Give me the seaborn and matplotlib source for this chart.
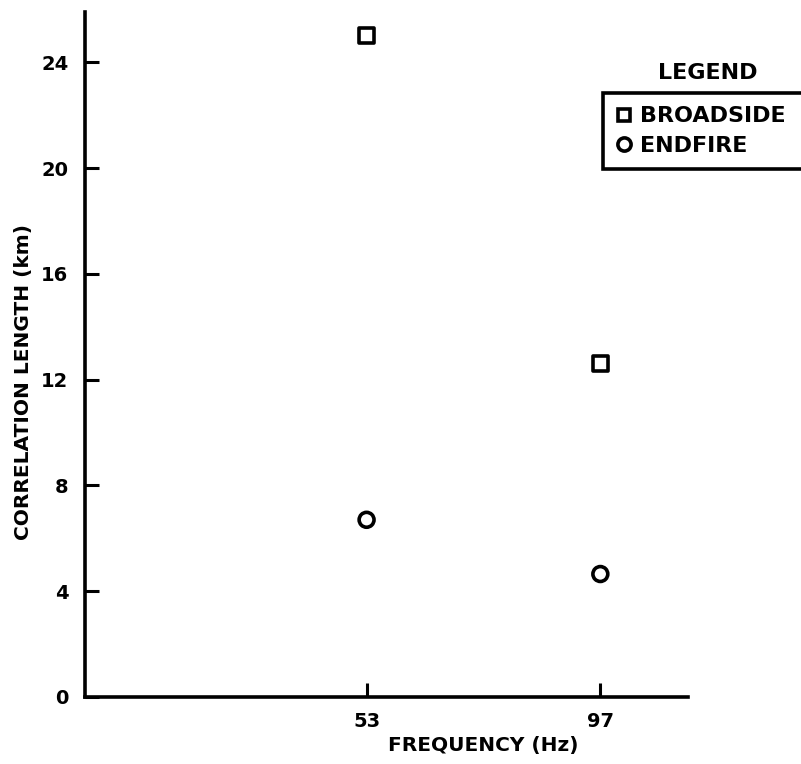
import matplotlib
matplotlib.use("Agg")
import matplotlib.pyplot as plt
import seaborn as sns
import pandas as pd
from matplotlib.lines import Line2D

# Data
frequency_hz = [53, 97]
broadside_km = [25.0, 12.6]
endfire_km = [6.7, 4.65]
series_names = ["BROADSIDE", "ENDFIRE"]
x_ticks = [53, 97]
y_ticks = [0, 4, 8, 12, 16, 20, 24]

df = pd.DataFrame({
    "freq": frequency_hz * 2,
    "length": broadside_km + endfire_km,
    "series": [series_names[0]] * 2 + [series_names[1]] * 2,
})

sns.set_style("ticks")
plt.rcParams["font.family"] = ["DejaVu Sans"]
plt.rcParams["font.weight"] = "bold"
for k in ["text.color", "axes.labelcolor", "xtick.color", "ytick.color", "axes.edgecolor"]:
    plt.rcParams[k] = "black"

fig = plt.figure(figsize=(8.01, 7.64), dpi=100)
ax = fig.add_axes([85 / 801, 1 - 697 / 764, (688 - 85) / 801, (697 - 12) / 764])

sns.scatterplot(data=df, x="freq", y="length", style="series",
                markers={"BROADSIDE": "s", "ENDFIRE": "o"},
                s=115, facecolor="white", edgecolor="black", linewidth=2.6,
                color="black", ax=ax, legend=False, zorder=3)

ax.set_xlim(0, 113.5)
ax.set_ylim(0, 25.9)
ax.set_xticks(x_ticks)
ax.set_yticks(y_ticks)
ax.tick_params(direction="in", length=10, width=2.2, labelsize=14, color="black",
               labelcolor="black")
ax.tick_params(axis="y", pad=12)
ax.tick_params(axis="x", pad=11)
for lab in ax.get_xticklabels() + ax.get_yticklabels():
    lab.set_fontweight("bold")

for side in ["top", "right"]:
    ax.spines[side].set_visible(False)
for side in ["left", "bottom"]:
    ax.spines[side].set_linewidth(2.6)
    ax.spines[side].set_color("black")

ax.set_xlabel("FREQUENCY (Hz)", fontsize=14.5, fontweight="bold")
ax.xaxis.set_label_coords((483 - 85) / (688 - 85), -0.057)
ax.set_ylabel("CORRELATION LENGTH (km)", fontsize=14.5, fontweight="bold")
ax.yaxis.set_label_coords(-0.087, (697 - 382) / (697 - 12))

handles = [
    Line2D([], [], marker="s", linestyle="none", markersize=8.5, markerfacecolor="white",
           markeredgecolor="black", markeredgewidth=2.6),
    Line2D([], [], marker="o", linestyle="none", markersize=9.5, markerfacecolor="white",
           markeredgecolor="black", markeredgewidth=2.6),
]
leg = fig.legend(handles, series_names, loc="upper left", mode="expand",
                 bbox_to_anchor=(603 / 801, 0, 260 / 801, 1 - 93 / 764),
                 frameon=True, fancybox=False, edgecolor="black",
                 prop={"weight": "bold", "size": 16},
                 handlelength=0.7, handletextpad=0.35, borderpad=0.6,
                 labelspacing=0.42, borderaxespad=0)
leg.get_frame().set_linewidth(2.6)
leg.get_frame().set_alpha(1)
fig.text(708 / 801, 1 - 73 / 764, "LEGEND", ha="center", va="center",
         fontsize=16, fontweight="bold")

fig.savefig("out.png", dpi=100)
